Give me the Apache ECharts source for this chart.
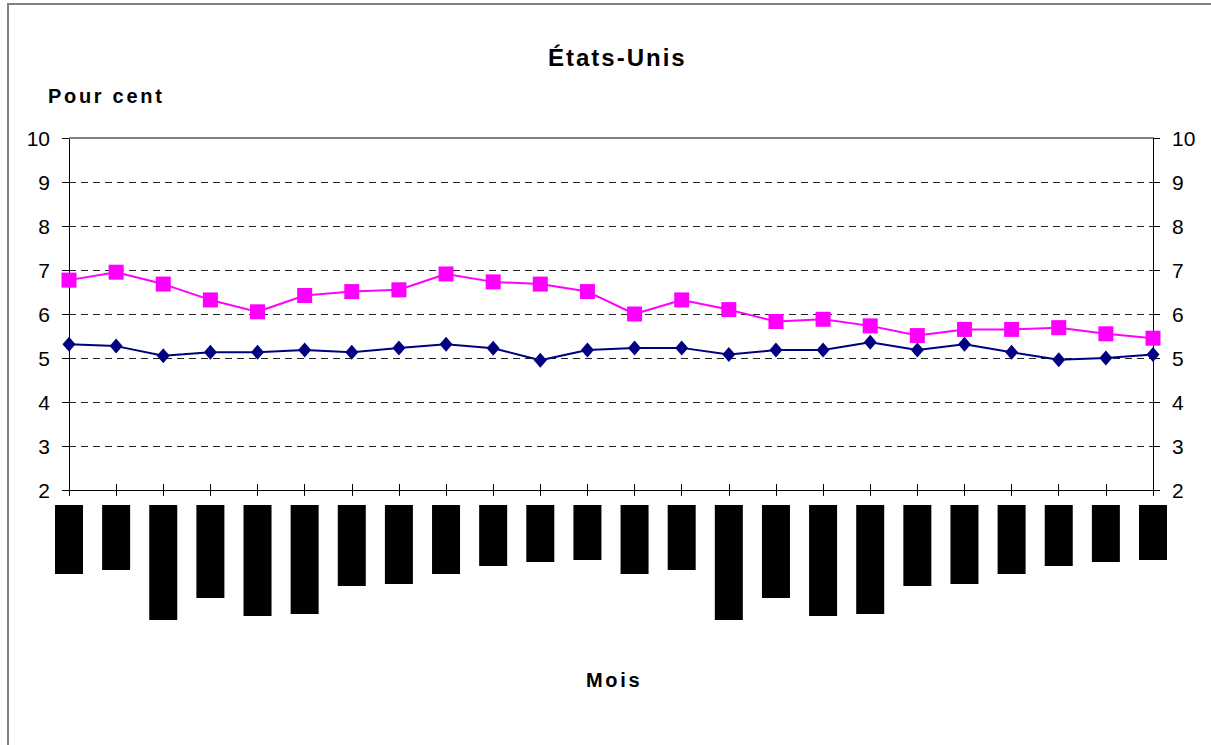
<!DOCTYPE html>
<html>
<head>
<meta charset="utf-8">
<script src="https://cdn.jsdelivr.net/npm/echarts@6/dist/echarts.min.js"></script>
<style>
  html, body { margin: 0; padding: 0; background: #fff; }
  #chart { width: 1211px; height: 745px; }
  /* spaced-out bold headings */
  #chart text[style*="bold"][style*="24px"] { letter-spacing: 2px; }
  #chart text[style*="bold"][style*="20px"] { letter-spacing: 2.7px; }
</style>
</head>
<body>
<div id="chart"></div>
<script>
// 24 monthly observations
const months = ['1','2','3','4','5','6','7','8','9','10','11','12',
                '13','14','15','16','17','18','19','20','21','22','23','24'];

// navy series (diamonds)
const seriesNavy = [5.31, 5.27, 5.05, 5.13, 5.13, 5.18, 5.13, 5.23, 5.31, 5.22, 4.95, 5.18,
                    5.23, 5.23, 5.08, 5.18, 5.18, 5.36, 5.18, 5.31, 5.13, 4.96, 5.00, 5.08];

// magenta series (squares)
const seriesMagenta = [6.77, 6.95, 6.68, 6.32, 6.05, 6.42, 6.51, 6.55, 6.91, 6.73, 6.68, 6.51,
                       6.00, 6.32, 6.10, 5.83, 5.88, 5.73, 5.51, 5.65, 5.65, 5.69, 5.55, 5.45];

// month label blocks under the axis (length in px)
const labelBlocks = [69, 65, 115, 93, 111, 109, 81, 79, 69, 61, 57, 55,
                     69, 65, 115, 93, 111, 109, 81, 79, 69, 61, 57, 55];

const yTicks = [2, 3, 4, 5, 6, 7, 8, 9, 10];

const FONT = 'Liberation Sans, Arial, sans-serif';
const chart = echarts.init(document.getElementById('chart'), null, { renderer: 'svg' });
const axisFont = { fontFamily: FONT, fontSize: 21, color: '#000' };

const valueAxis = (pos) => ({
  type: 'value', gridIndex: 0, position: pos,
  min: yTicks[0], max: yTicks[yTicks.length - 1], interval: 1,
  axisLine: { show: true, lineStyle: { color: '#000', width: 1 } },
  axisTick: { show: true, length: 7, lineStyle: { color: '#000' } },
  axisLabel: Object.assign({ margin: 19 }, axisFont),
  splitLine: pos === 'left'
    ? { show: true, lineStyle: { color: '#222', type: [7, 5], width: 1 } }
    : { show: false }
});

const LEFT = 69, RIGHT_X = 1153;
const step = (RIGHT_X - LEFT) / (months.length - 1);

chart.setOption({
  animation: false,
  backgroundColor: '#fff',
  title: [
    { text: 'États-Unis', left: 543, top: 40,
      textStyle: { fontFamily: FONT, fontSize: 24, fontWeight: 'bold', color: '#000' } },
    { text: 'Pour cent', left: 43, top: 81,
      textStyle: { fontFamily: FONT, fontSize: 20, fontWeight: 'bold', color: '#000' } },
    { text: 'Mois', left: 581, top: 665,
      textStyle: { fontFamily: FONT, fontSize: 20, fontWeight: 'bold', color: '#000' } }
  ],
  graphic: [
    { type: 'rect', shape: { x: 8, y: 4, width: 1220, height: 760 },
      style: { fill: null, stroke: '#7f7f7f', lineWidth: 2 }, silent: true },
    // solid top border of the plot area
    { type: 'line', shape: { x1: LEFT, y1: 138, x2: RIGHT_X, y2: 138 },
      style: { stroke: '#808080', lineWidth: 2 }, silent: true, z: 5 }
  ],
  grid: [
    { left: LEFT, width: RIGHT_X - LEFT, top: 138, height: 352 },
    { left: LEFT - step / 2, width: step * months.length, top: 505, height: 115 }
  ],
  xAxis: [
    { type: 'category', gridIndex: 0, data: months, boundaryGap: false,
      axisLine: { lineStyle: { color: '#000', width: 1 } },
      axisTick: { show: true, length: 6, lineStyle: { color: '#000' }, interval: 0 },
      axisLabel: { show: false } },
    { type: 'category', gridIndex: 1, data: months, boundaryGap: true,
      axisLine: { show: false }, axisTick: { show: false }, axisLabel: { show: false } },
    // upper half of the crossing tick marks on the month axis
    { type: 'category', gridIndex: 0, data: months, boundaryGap: false, position: 'bottom', offset: 0,
      axisLine: { show: false },
      axisTick: { show: true, inside: true, length: 6, lineStyle: { color: '#000' }, interval: 0 },
      axisLabel: { show: false } }
  ],
  yAxis: [
    valueAxis('left'),
    valueAxis('right'),
    { type: 'value', gridIndex: 1, min: 0, max: 115, inverse: true,
      axisLine: { show: false }, axisTick: { show: false }, axisLabel: { show: false }, splitLine: { show: false } }
  ],
  series: [
    { type: 'line', xAxisIndex: 0, yAxisIndex: 0, data: seriesMagenta,
      symbol: 'rect', symbolSize: 15, lineStyle: { color: '#ff00ff', width: 2 },
      itemStyle: { color: '#ff00ff' }, z: 3 },
    { type: 'line', xAxisIndex: 0, yAxisIndex: 0, data: seriesNavy,
      symbol: 'diamond', symbolSize: [13, 15], lineStyle: { color: '#000080', width: 2 },
      itemStyle: { color: '#000080' }, z: 4 },
    { type: 'bar', xAxisIndex: 1, yAxisIndex: 2, data: labelBlocks,
      barWidth: 28, itemStyle: { color: '#000' }, clip: false }
  ]
});
</script>
</body>
</html>
